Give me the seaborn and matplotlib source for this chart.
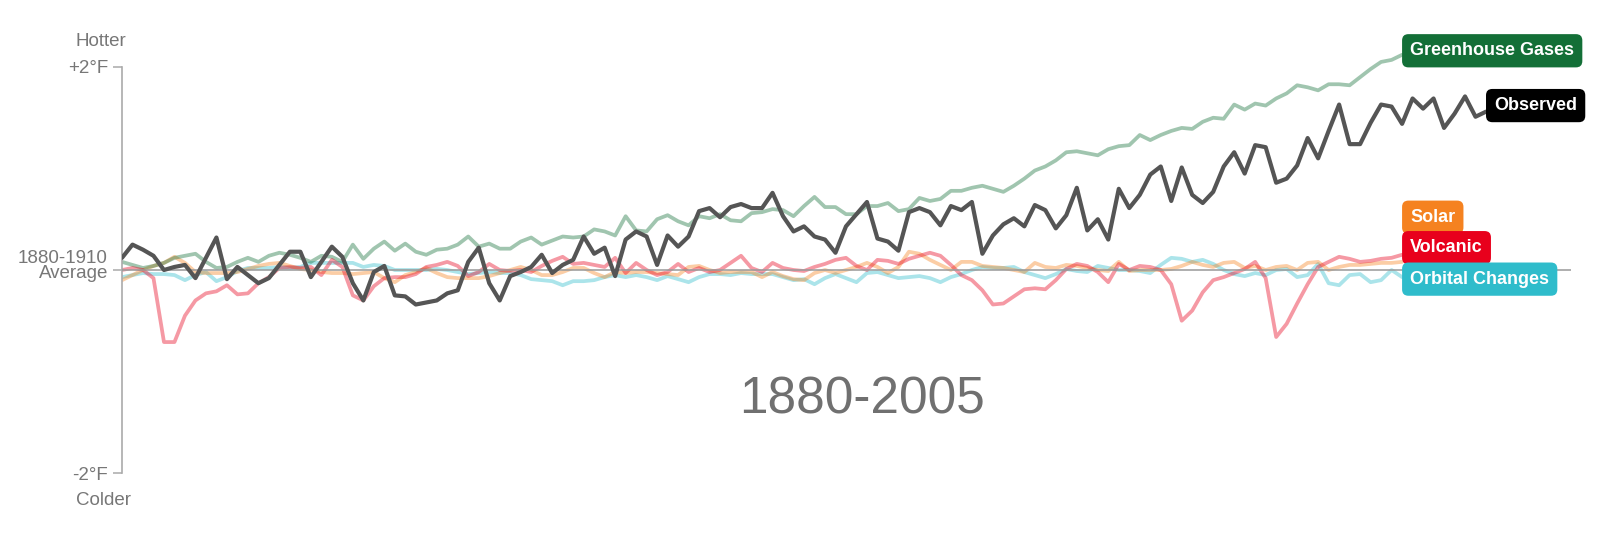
import numpy as np
import pandas as pd
import matplotlib
matplotlib.use("Agg")
import matplotlib.pyplot as plt
import seaborn as sns

# temperature change vs 1880-1910 average, deg F, one value per year from 1880
first_year = 1880

observed = [
    0.12, 0.25, 0.20, 0.14, 0.00, 0.03, 0.05, -0.08, 0.12, 0.32,
    -0.09, 0.03, -0.05, -0.13, -0.08, 0.05, 0.18, 0.18, -0.07, 0.08,
    0.23, 0.13, -0.13, -0.30, -0.02, 0.04, -0.25, -0.26, -0.34, -0.32,
    -0.30, -0.23, -0.20, 0.08, 0.22, -0.13, -0.30, -0.06, -0.02, 0.03,
    0.15, -0.03, 0.05, 0.10, 0.33, 0.16, 0.22, -0.06, 0.30, 0.38,
    0.33, 0.05, 0.34, 0.23, 0.33, 0.58, 0.61, 0.52, 0.62, 0.65,
    0.61, 0.61, 0.76, 0.53, 0.38, 0.43, 0.33, 0.30, 0.17, 0.43,
    0.55, 0.67, 0.31, 0.28, 0.19, 0.57, 0.61, 0.57, 0.44, 0.63,
    0.59, 0.67, 0.16, 0.34, 0.45, 0.51, 0.43, 0.64, 0.59, 0.41,
    0.54, 0.81, 0.39, 0.50, 0.30, 0.80, 0.61, 0.74, 0.94, 1.02,
    0.68, 1.01, 0.74, 0.66, 0.77, 1.02, 1.16, 0.95, 1.23, 1.21,
    0.86, 0.90, 1.03, 1.30, 1.10, 1.37, 1.63, 1.24, 1.24, 1.45,
    1.63, 1.61, 1.44, 1.69, 1.59, 1.69, 1.40, 1.54, 1.71, 1.51,
    1.56,
]

greenhouse = [
    0.08, 0.05, 0.02, 0.04, 0.07, 0.12, 0.14, 0.16, 0.08, 0.02,
    0.03, 0.08, 0.12, 0.08, 0.14, 0.17, 0.15, 0.12, 0.08, 0.14,
    0.13, 0.08, 0.25, 0.11, 0.21, 0.28, 0.19, 0.26, 0.18, 0.15,
    0.20, 0.21, 0.25, 0.33, 0.23, 0.26, 0.21, 0.21, 0.28, 0.32,
    0.25, 0.29, 0.33, 0.32, 0.33, 0.40, 0.38, 0.34, 0.53, 0.39,
    0.38, 0.50, 0.54, 0.48, 0.44, 0.53, 0.51, 0.55, 0.49, 0.48,
    0.56, 0.57, 0.60, 0.59, 0.53, 0.63, 0.72, 0.62, 0.62, 0.55,
    0.55, 0.63, 0.63, 0.66, 0.58, 0.60, 0.71, 0.68, 0.70, 0.78,
    0.78, 0.81, 0.83, 0.80, 0.77, 0.83, 0.90, 0.98, 1.02, 1.08,
    1.16, 1.17, 1.15, 1.13, 1.19, 1.22, 1.23, 1.33, 1.28, 1.33,
    1.37, 1.40, 1.39, 1.46, 1.50, 1.49, 1.63, 1.58, 1.64, 1.62,
    1.69, 1.74, 1.82, 1.80, 1.77, 1.83, 1.83, 1.82, 1.90, 1.98,
    2.05, 2.07, 2.12,
]

volcanic = [
    0.00, 0.02, 0.00, -0.08, -0.71, -0.71, -0.45, -0.30, -0.23, -0.21,
    -0.15, -0.24, -0.23, -0.13, -0.07, 0.02, 0.03, 0.02, 0.03, -0.05,
    0.10, 0.03, -0.25, -0.30, -0.16, -0.08, -0.07, -0.07, -0.04, 0.03,
    0.05, 0.08, 0.04, -0.06, -0.02, 0.06, 0.00, -0.01, 0.00, -0.02,
    0.04, 0.09, 0.13, 0.06, 0.07, 0.05, 0.03, 0.12, -0.03, 0.07,
    0.00, -0.05, -0.02, 0.06, -0.02, 0.02, -0.02, 0.00, 0.07, 0.14,
    0.02, -0.02, 0.07, 0.02, 0.00, -0.01, 0.03, 0.06, 0.10, 0.12,
    0.04, 0.00, 0.10, 0.09, 0.06, 0.11, 0.14, 0.17, 0.14, 0.05,
    -0.05, -0.10, -0.20, -0.34, -0.33, -0.26, -0.19, -0.18, -0.19, -0.10,
    0.01, 0.06, 0.04, -0.02, -0.12, 0.06, 0.00, 0.04, 0.03, 0.00,
    -0.14, -0.50, -0.40, -0.22, -0.10, -0.07, -0.03, 0.01, 0.08, -0.08,
    -0.66, -0.53, -0.33, -0.14, 0.03, 0.08, 0.13, 0.11, 0.08, 0.09,
    0.11, 0.12, 0.15,
]

solar = [
    -0.10, -0.05, 0.00, 0.04, 0.07, 0.13, 0.07, -0.02, -0.03, -0.03,
    -0.03, -0.02, 0.01, 0.04, 0.06, 0.07, 0.04, 0.01, 0.00, -0.02,
    -0.03, -0.03, -0.04, -0.03, -0.02, -0.08, -0.12, -0.05, -0.02, 0.02,
    -0.03, -0.07, -0.08, -0.08, -0.08, -0.06, -0.03, 0.00, 0.03, 0.00,
    -0.05, -0.05, -0.02, 0.02, 0.02, -0.03, -0.07, -0.02, -0.03, -0.02,
    -0.02, -0.03, -0.04, -0.05, 0.03, 0.04, 0.00, -0.03, -0.02, -0.02,
    -0.02, -0.07, -0.02, -0.06, -0.09, -0.10, -0.03, 0.00, -0.03, 0.00,
    0.03, 0.07, 0.03, -0.03, 0.03, 0.18, 0.16, 0.10, 0.05, 0.00,
    0.08, 0.08, 0.04, 0.03, 0.02, 0.00, -0.02, 0.07, 0.03, 0.02,
    0.05, 0.04, 0.02, 0.00, -0.01, 0.08, -0.01, 0.00, 0.00, 0.00,
    0.01, 0.04, 0.08, 0.05, 0.03, 0.07, 0.08, 0.02, 0.04, 0.00,
    0.03, 0.04, 0.00, 0.07, 0.08, 0.00, 0.03, 0.05, 0.05, 0.06,
    0.07, 0.07, 0.08,
]

orbital = [
    -0.07, -0.05, -0.03, -0.04, -0.04, -0.05, -0.10, -0.05, -0.02, -0.11,
    -0.07, -0.01, 0.02, 0.02, 0.02, 0.03, 0.02, 0.03, 0.07, 0.07,
    0.07, 0.07, 0.07, 0.03, 0.05, 0.04, 0.00, 0.00, 0.00, 0.00,
    0.01, 0.00, -0.02, -0.04, -0.03, -0.02, -0.03, -0.03, -0.05, -0.09,
    -0.10, -0.11, -0.15, -0.11, -0.11, -0.10, -0.07, -0.05, -0.07, -0.05,
    -0.07, -0.10, -0.06, -0.09, -0.12, -0.07, -0.04, -0.04, -0.05, -0.03,
    -0.04, -0.04, -0.04, -0.07, -0.10, -0.09, -0.14, -0.08, -0.04, -0.08,
    -0.12, -0.03, -0.02, -0.05, -0.08, -0.07, -0.06, -0.08, -0.12, -0.07,
    -0.04, 0.00, 0.03, 0.02, 0.02, 0.03, -0.02, -0.05, -0.08, -0.04,
    0.01, -0.01, -0.02, 0.04, 0.02, 0.00, 0.00, -0.01, -0.03, 0.05,
    0.12, 0.11, 0.08, 0.10, 0.06, 0.00, -0.04, -0.06, -0.03, -0.05,
    0.00, 0.01, -0.07, -0.05, 0.06, -0.13, -0.15, -0.05, -0.04, -0.12,
    -0.10, 0.00, -0.07,
]

series_names = ["Orbital Changes", "Solar", "Greenhouse Gases", "Volcanic"]
series_values = [orbital, solar, greenhouse, volcanic]
series_colors = ["#2fbccb", "#f58220", "#136f37", "#e8001c"]

# end labels: name, box colour, vertical position of the tag
label_names = ["Greenhouse Gases", "Observed", "Solar", "Volcanic", "Orbital Changes"]
label_colors = ["#136f37", "#000000", "#f58220", "#e8001c", "#2fbccb"]
label_y = [2.16, 1.62, 0.52, 0.22, -0.09]

# long table for seaborn
rows = []
for name, vals in zip(series_names, series_values):
    for i, v in enumerate(vals):
        rows.append((first_year + i, v, name))
df = pd.DataFrame(rows, columns=["year", "anomaly", "series"])
obs_df = pd.DataFrame({"year": first_year + np.arange(len(observed)), "anomaly": observed})

sns.set_theme(style="white")
plt.rcParams["font.family"] = ["Liberation Sans", "DejaVu Sans"]

fig = plt.figure(figsize=(16, 5.38), dpi=100)
ax = fig.add_axes([122 / 1600, 4.1 / 538, 1449 / 1600, 527.8 / 538])
ax.set_facecolor("white")

for name, col in zip(series_names, series_colors):
    sns.lineplot(data=df[df["series"] == name], x="year", y="anomaly", color=col,
                 alpha=0.4, linewidth=2.7, ax=ax, legend=False, zorder=2)

ax.axhline(0, color="#999999", linewidth=1.1, zorder=3)

sns.lineplot(data=obs_df, x="year", y="anomaly", color="#555555", linewidth=3.0,
             ax=ax, legend=False, zorder=4)

ax.set_xlim(1880, 2018.1)
ax.set_ylim(-2.6, 2.6)
ax.set_xlabel("")
ax.set_ylabel("")
ax.set_xticks([])
ax.set_yticks([-2, 0, 2])
ax.set_yticklabels([])
ax.tick_params(axis="y", left=True, length=6.5, width=1.1, color="#aaaaaa")
for s in ["top", "right", "bottom"]:
    ax.spines[s].set_visible(False)
ax.spines["left"].set_color("#aaaaaa")
ax.spines["left"].set_linewidth(1.2)
ax.spines["left"].set_bounds(-2, 2)

# axis texts
ytr = ax.get_yaxis_transform()
gray = "#777777"
fs = 13.5
ax.text(-0.0145, 2.207, "Hotter", transform=ytr, ha="center", va="baseline", fontsize=fs, color=gray)
ax.text(-0.0097, 1.94, "+2°F", transform=ytr, ha="right", va="baseline", fontsize=fs, color=gray)
ax.text(-0.0097, 0.069, "1880-1910", transform=ytr, ha="right", va="baseline", fontsize=fs, color=gray)
ax.text(-0.0097, -0.079, "Average", transform=ytr, ha="right", va="baseline", fontsize=fs, color=gray)
ax.text(-0.0097, -2.07, "-2°F", transform=ytr, ha="right", va="baseline", fontsize=fs, color=gray)
ax.text(-0.0131, -2.315, "Colder", transform=ytr, ha="center", va="baseline", fontsize=fs, color=gray)

ax.text(0.5107, -1.41, "1880-2005", transform=ytr, ha="center", va="baseline",
        fontsize=37, color="#707070")

# tags at the line ends
ends = {"Observed": obs_df["year"].iloc[-1]}
for name in series_names:
    ends[name] = df.loc[df["series"] == name, "year"].iloc[-1]

pad = 0.45
for name, col, yl in zip(label_names, label_colors, label_y):
    ax.annotate(name, xy=(ends[name], yl), xytext=(pad * 13, 0), textcoords="offset points",
                ha="left", va="center", fontsize=13, fontweight="bold", color="white",
                annotation_clip=False, zorder=10,
                bbox=dict(boxstyle=f"round,pad={pad},rounding_size=0.35", fc=col, ec="none"))

fig.savefig("out.png", dpi=100, facecolor="white")
